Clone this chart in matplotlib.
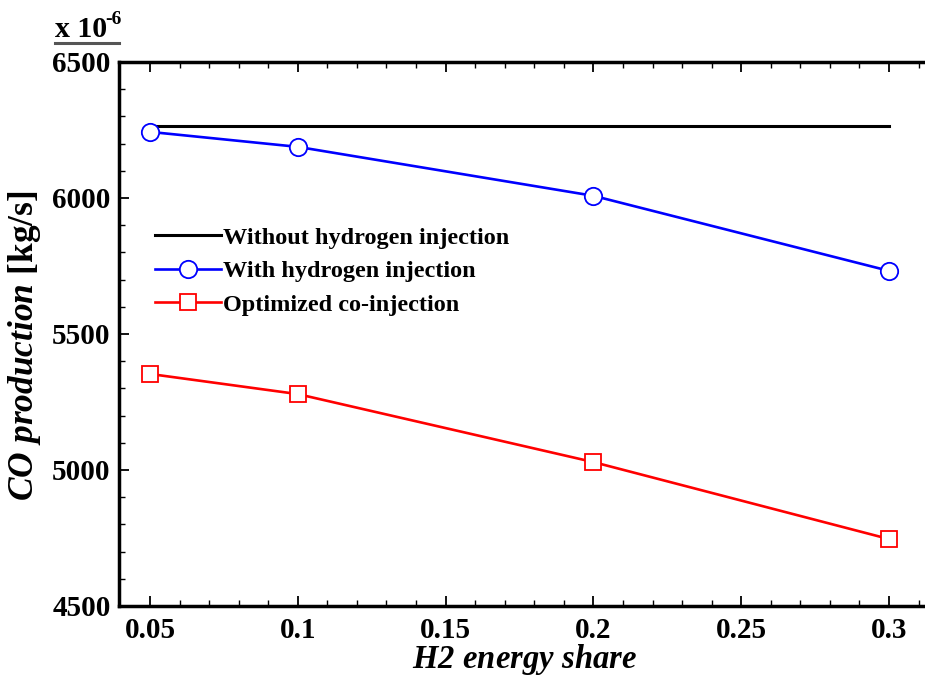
import matplotlib
matplotlib.use('Agg')
import matplotlib.pyplot as plt
from matplotlib.lines import Line2D

# Fonts: bold serif look, with bold-italic parts through mathtext
plt.rcParams['font.family'] = 'Liberation Serif'
plt.rcParams['font.weight'] = 'bold'
plt.rcParams['mathtext.fontset'] = 'custom'
plt.rcParams['mathtext.rm'] = 'Liberation Serif:bold'
plt.rcParams['mathtext.bf'] = 'Liberation Serif:bold'
plt.rcParams['mathtext.it'] = 'Liberation Serif:italic:bold'
plt.rcParams['mathtext.bfit'] = 'Liberation Serif:italic:bold'

# Data (CO production, x 10^-6 kg/s)
h2_share = [0.05, 0.1, 0.2, 0.3]
without_x = [0.05, 0.3]
without_h2 = [6265, 6265]
with_h2 = [6243, 6188, 6008, 5732]
optimized = [5353, 5279, 5029, 4746]

fig = plt.figure(figsize=(9.25, 6.76), dpi=100)
ax = fig.add_axes([0.1286, 0.1036, 0.876, 0.8047])

ax.plot(without_x, without_h2, color='black', linewidth=2.2,
        label='Without hydrogen injection')
ax.plot(h2_share, with_h2, color='blue', linewidth=1.9, marker='o',
        markersize=12.5, markerfacecolor='white', markeredgecolor='blue',
        markeredgewidth=1.3, label='With hydrogen injection')
ax.plot(h2_share, optimized, color='red', linewidth=1.9, marker='s',
        markersize=11, markerfacecolor='white', markeredgecolor='red',
        markeredgewidth=1.3, label='Optimized co-injection')

ax.set_xlim(0.0395, 0.3136)
ax.set_ylim(4500, 6500)
ax.set_xticks([0.05, 0.1, 0.15, 0.2, 0.25, 0.3])
ax.set_xticklabels(['0.05', '0.1', '0.15', '0.2', '0.25', '0.3'])
ax.set_yticks([4500, 5000, 5500, 6000, 6500])
ax.set_xticks([0.05 + 0.01 * i for i in range(27) if i % 5 != 0], minor=True)
ax.set_yticks([4500 + 100 * i for i in range(21) if i % 5 != 0], minor=True)

ax.tick_params(which='both', direction='in', top=True, right=False,
               labelsize=21)
ax.tick_params(axis='x', which='major', length=7, width=1.3, pad=8)
ax.tick_params(axis='y', which='major', length=7, width=1.3, pad=6)
ax.tick_params(which='minor', length=4, width=1.0)
for side in ['left', 'bottom', 'top', 'right']:
    ax.spines[side].set_linewidth(2.5)

ax.set_xlabel(r'$\mathbfit{H2\ energy\ share}$', fontsize=23.5)
ax.xaxis.set_label_coords(0.5, -0.066)
ax.set_ylabel(r'$\mathbfit{CO\ production}\ \mathbf{[kg/s]}$', fontsize=25.5)
ax.yaxis.set_label_coords(-0.094, 0.478)

ax.legend(loc='upper left', bbox_to_anchor=(0.045, 0.697), frameon=False,
          fontsize=17.5, handlelength=2.7, handletextpad=0.1,
          labelspacing=0.47, borderpad=0, borderaxespad=0)

# multiplier note above the y axis
fig.text(55 / 925, 1 - 37 / 676, 'x 10', fontsize=21.5,
         ha='left', va='baseline')
fig.text(105 / 925, 1 - 24 / 676, '-6', fontsize=14,
         ha='left', va='baseline')
fig.add_artist(Line2D([55 / 925, 119 / 925], [1 - 43 / 676, 1 - 43 / 676],
                      color='#555555', linewidth=2.2))

fig.savefig('out.png', dpi=100)
